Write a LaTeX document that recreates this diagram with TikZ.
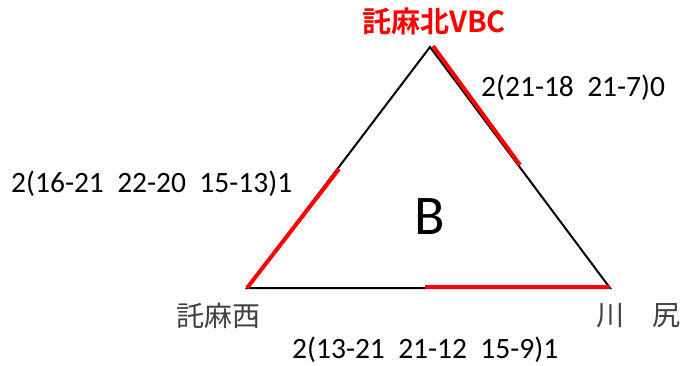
\documentclass[tikz,border=0pt]{standalone}
\usepackage{fontspec}
\setmainfont{Carlito}
\newfontfamily\jpfont{Noto Sans CJK JP}
\newfontfamily\jpbold{Noto Sans CJK JP Bold}
\begin{document}
\begin{tikzpicture}[x=1pt,y=-1pt,
  edge/.style={line width=2pt,black},
  hl/.style={line width=4pt,red},
  score/.style={font=\fontsize{29.5}{32}\selectfont,inner sep=0pt},
  team/.style={font=\jpfont\fontsize{28}{30}\selectfont,text=black!75,inner sep=0pt}]
\useasboundingbox (0,0) rectangle (689,365);
\coordinate (T) at (430,47);
\coordinate (L) at (247,288);
\coordinate (R) at (610,288);
\draw[edge,line join=miter] (T) -- (R) -- (L) -- cycle;
% red highlights
\coordinate (r1a) at (433,46);
\coordinate (r1b) at (520,165);
\draw[hl] (r1a) -- (r1b);
\coordinate (l1b) at (339,169);
\draw[hl] (L) -- (l1b);
\coordinate (b1a) at (425,287);
\coordinate (b1b) at (610,287);
\draw[hl] (b1a) -- (b1b);
% labels
\node[inner sep=0pt,text=red,font=\jpbold\fontsize{29}{32}\selectfont] (top) at (434,21) {託麻北VBC};
\node[score,anchor=west] (s1) at (481,88) {2(21-18\ \ 21-7)0};
\node[score,anchor=west] (s2) at (11,184) {2(16-21\ \ 22-20\ \ 15-13)1};
\node[score,anchor=west] (s3) at (292,350) {2(13-21\ \ 21-12\ \ 15-9)1};
\node[inner sep=0pt,font=\fontsize{56}{60}\selectfont] (B) at (430,217) {B};
\node[team,anchor=west] (tl) at (176,316) {託麻西};
\node[team,anchor=west] (tr) at (596,316) {川　尻};
\end{tikzpicture}
\end{document}
